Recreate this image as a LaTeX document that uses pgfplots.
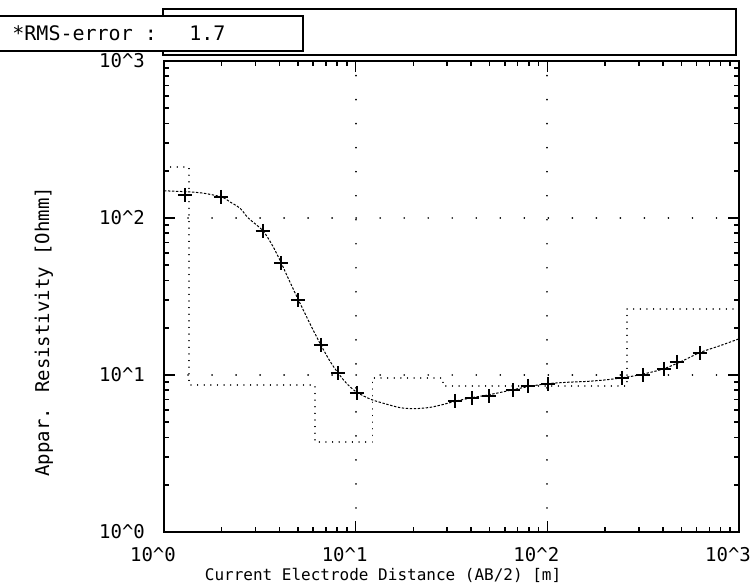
\documentclass[border=0pt]{standalone}
\usepackage{fontspec}
\setmainfont{DejaVu Sans Mono}
\usepackage{pgfplots}
\pgfplotsset{compat=1.18}
\begin{document}
\begin{tikzpicture}
\useasboundingbox (0pt,0pt) rectangle (375pt,292pt);
% header boxes
\draw[line width=1pt] (81.5pt,264.5pt) rectangle (368pt,287.5pt);
\draw[line width=1pt, fill=white] (-5pt,266.5pt) rectangle (151.5pt,284pt);
\node[anchor=west, inner sep=0pt, font=\fontsize{10}{12}\selectfont] at (6pt,275.5pt) {*RMS-error :};
\node[anchor=west, inner sep=0pt, font=\fontsize{10}{12}\selectfont] at (94.5pt,275.5pt) {1.7};
\begin{axis}[
    at={(82pt,26pt)}, anchor=south west,
    scale only axis, width=287.5pt, height=235.5pt,
    xmode=log, ymode=log,
    xmin=1, xmax=1000, ymin=1, ymax=1000,
    xtick={1,10,100,1000}, ytick={1,10,100,1000},
    minor xtick={2,3,4,5,6,7,8,9,20,30,40,50,60,70,80,90,200,300,400,500,600,700,800,900},
    minor ytick={2,3,4,5,6,7,8,9,20,30,40,50,60,70,80,90,200,300,400,500,600,700,800,900},
    xticklabels={10\textasciicircum 0,10\textasciicircum 1,10\textasciicircum 2,10\textasciicircum 3},
    yticklabels={10\textasciicircum 0,10\textasciicircum 1,10\textasciicircum 2,10\textasciicircum 3},
    tick label style={font=\fontsize{9.5}{11}\selectfont},
    xticklabel style={anchor=center, yshift=-11.5pt, xshift=-5.5pt},
    yticklabel style={anchor=east, xshift=-6pt},
    tick align=inside,
    major tick length=5.5pt, minor tick length=2.5pt,
    tick style={line width=0.8pt, black},
    axis line style={line width=1pt},
    grid=major,
    grid style={line width=0.9pt, line cap=round, dash pattern=on 0.01pt off 12pt, black},
    xlabel={Current Electrode Distance (AB/2) [m]},
    ylabel={Appar. Resistivity [Ohmm]},
    xlabel style={at={(axis description cs:0.381,-0.0913)}, anchor=center, font=\fontsize{8}{10}\selectfont},
    ylabel style={at={(axis description cs:-0.2087,0.425)}, anchor=center, font=\fontsize{9.5}{11}\selectfont},
]
% layered model
\addplot[black, line width=0.7pt, line cap=round, dash pattern=on 0.01pt off 3.3pt] coordinates {
  (1,211) (1.35,211) (1.35,8.63) (6.13,8.63) (6.13,3.74) (12.2,3.74)
  (12.2,9.57) (28.5,9.57) (28.5,8.51) (260,8.51) (260,26.3) (1000,26.3)
};
% model curve
\addplot[black, line width=0.5pt, smooth, dash pattern=on 1.2pt off 0.8pt] coordinates {
  (1.0,149) (1.3,147) (1.6,144) (2.0,136) (2.2,127) (2.5,115) (2.75,100)
  (3.28,83) (3.7,66) (4.08,52) (4.5,40) (5.0,30.5) (5.8,21) (6.59,15.5)
  (7.3,12.4) (8.09,10.3) (9.0,8.8) (10.16,7.75) (12,7.0) (14,6.6) (17,6.2)
  (20,6.1) (24,6.2) (28,6.45) (33,6.8) (40,7.15) (50,7.5) (66,8.05)
  (80,8.45) (100,8.8) (130,9.0) (160,9.1) (200,9.3) (245,9.6) (300,10.0)
  (400,10.9) (500,12.2) (625,13.9) (800,15.4) (1000,17.0)
};
% measured data
\addplot[only marks, mark=+, mark size=3.6pt, line width=1pt, black] coordinates {
  (1.29,140) (1.98,136) (3.28,82.6) (4.08,51.7) (5.0,30.0) (6.59,15.5)
  (8.09,10.3) (10.16,7.68) (33.0,6.83) (40.4,7.14) (49.6,7.35) (66.2,8.03)
  (79.2,8.51) (100.7,8.76) (245,9.57) (315,10.0) (406,10.9) (474,12.1) (625,13.8)
};
\end{axis}
\end{tikzpicture}
\end{document}
